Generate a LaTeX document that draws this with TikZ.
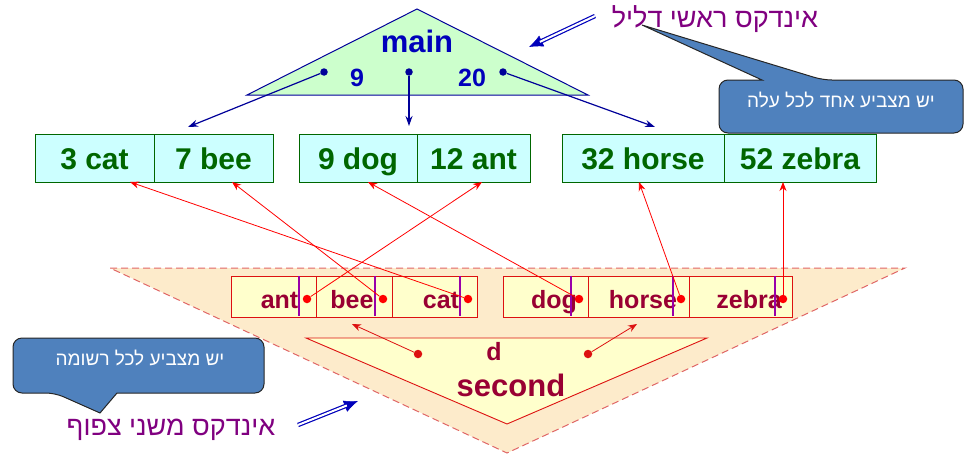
\documentclass[tikz,border=0pt]{standalone}
\usepackage{fontspec}
\setmainfont{Liberation Sans}
\newfontfamily\heb[Script=Hebrew]{Liberation Sans}
\TeXXeTstate=1
\usetikzlibrary{arrows.meta}
\definecolor{tgreenfill}{HTML}{CCFFCC}
\definecolor{navy}{HTML}{000099}
\definecolor{btext}{HTML}{0000BB}
\definecolor{tcyan}{HTML}{CCFFFF}
\definecolor{tgreen}{HTML}{006600}
\definecolor{orfill}{HTML}{FDEBCB}
\definecolor{ordash}{HTML}{E06666}
\definecolor{byellow}{HTML}{FFFFCC}
\definecolor{bred}{HTML}{DD1111}
\definecolor{dred}{HTML}{990033}
\definecolor{hpurple}{HTML}{800080}
\definecolor{pline}{HTML}{9900AA}
\definecolor{cblue}{HTML}{4F81BD}
\begin{document}
\begin{tikzpicture}[x=1pt,y=-1pt,
  topcell/.style={draw=tgreen, fill=tcyan, minimum height=48pt, inner sep=0pt,
    font=\fontsize{30}{30}\selectfont\bfseries, text=tgreen, text height=22pt, text depth=0pt},
  botcell/.style={draw=bred, fill=byellow, minimum height=41pt, inner sep=0pt},
  bottxt/.style={font=\fontsize{25}{26}\selectfont\bfseries, text=dred, anchor=base, inner sep=0pt},
  rdot/.style={circle, fill=red, inner sep=0pt, minimum size=8.5pt},
  ndot/.style={circle, fill=navy, inner sep=0pt, minimum size=7.5pt},
  rarrow/.style={red, line width=0.8pt, -{Stealth[length=9pt,width=7pt]}},
  darrow/.style={bred, line width=0.8pt, -{Stealth[length=9pt,width=7pt]}},
  barrow/.style={navy, line width=1.2pt, -{Stealth[length=10pt,width=7pt]}},
  dblhead/.style={btext, line width=0.5pt, -{Latex[length=14pt,width=12pt]}},
  dblline/.style={btext, double=white, double distance=2pt, line width=1.2pt, shorten >=12pt},
  purplebar/.style={pline, line width=2.2pt},
  callout/.style={fill=cblue, draw=black!85, line width=1pt},
  calltxt/.style={font=\heb\fontsize{19}{20}\selectfont, text=white, anchor=base, inner sep=0pt},
  hebtitle/.style={font=\heb\fontsize{27}{28}\selectfont, text=hpurple, anchor=base, inner sep=0pt}]
\useasboundingbox (0,0) rectangle (965,455);

% secondary index background
\draw[fill=orfill, draw=ordash, line width=1pt, dash pattern=on 7pt off 4pt] (110,268) -- (905,268) -- (507,453) -- cycle;
\draw[fill=byellow, draw=bred, line width=0.9pt] (306,338) -- (707,338) -- (507,424) -- cycle;
\node[font=\fontsize{25}{26}\selectfont\bfseries, text=dred, anchor=base, inner sep=0pt] (dlab) at (494,360) {d};
\node[font=\fontsize{31}{32}\selectfont\bfseries, text=dred, anchor=base, inner sep=0pt] (second) at (511,396) {second};

% bottom cells
\node[botcell, minimum width=85pt] (b1) at (273.5,296.5) {};
\node[botcell, minimum width=76pt] (b2) at (354,296.5) {};
\node[botcell, minimum width=85pt] (b3) at (434.5,296.5) {};
\node[botcell, minimum width=85pt] (b4) at (545.5,296.5) {};
\node[botcell, minimum width=101pt] (b5) at (638.5,296.5) {};
\node[botcell, minimum width=103pt] (b6) at (740.5,296.5) {};
\node[bottxt] (tant) at (279.5,308) {ant};
\node[bottxt] (tbee) at (352,308) {bee};
\node[bottxt] (tcat) at (441,308) {cat};
\node[bottxt] (tdog) at (554,308) {dog};
\node[bottxt] (thorse) at (643,308) {horse};
\node[bottxt] (tzebra) at (749,308) {zebra};
\foreach \px in {299,375,460,571,673,775} \draw[purplebar] (\px,276) -- (\px,316);
\node[rdot] (dant) at (307,299) {};
\node[rdot] (dbee) at (383,299) {};
\node[rdot] (dcat) at (468,299) {};
\node[rdot] (ddog) at (579,299) {};
\node[rdot] (dhorse) at (681,299) {};
\node[rdot] (dzebra) at (783,299) {};

% dots in second triangle
\node[circle, fill=bred, inner sep=0pt, minimum size=8.5pt] (sd1) at (418,354) {};
\node[circle, fill=bred, inner sep=0pt, minimum size=8.5pt] (sd2) at (588,354) {};
\coordinate (sa1) at (352,324);
\coordinate (sa2) at (637,324);
\draw[darrow] (sd1) -- (sa1);
\draw[darrow] (sd2) -- (sa2);

% top cells
\node[topcell, minimum width=119pt] (c1) at (94.5,158) {3 cat};
\node[topcell, minimum width=119pt] (c2) at (213.5,158) {7 bee};
\node[topcell, minimum width=118pt] (c3) at (358,158) {9 dog};
\node[topcell, minimum width=113pt] (c4) at (473.5,158) {12 ant};
\node[topcell, minimum width=162pt] (c5) at (643,158) {32 horse};
\node[topcell, minimum width=152pt] (c6) at (800,158) {52 zebra};

% red pointers
\coordinate (p12ant) at (482,182);
\coordinate (p7bee) at (232,182);
\coordinate (p3cat) at (130,182);
\coordinate (p9dog) at (368,182);
\coordinate (p32horse) at (639,182);
\coordinate (p52zebra) at (783,182);
\draw[rarrow] (dant) -- (p12ant);
\draw[rarrow] (dbee) -- (p7bee);
\draw[rarrow] (dcat) -- (p3cat);
\draw[rarrow] (ddog) -- (p9dog);
\draw[rarrow] (dhorse) -- (p32horse);
\draw[rarrow] (dzebra) -- (p52zebra);

% main triangle
\draw[fill=tgreenfill, draw=navy, line width=1pt] (417,9) -- (588,95) -- (247,95) -- cycle;
\node[font=\fontsize{31}{32}\selectfont\bfseries, text=btext, anchor=base, inner sep=0pt] (main) at (417,52) {main};
\node[font=\fontsize{25}{26}\selectfont\bfseries, text=btext, anchor=base, inner sep=0pt] (k9) at (357,86) {9};
\node[font=\fontsize{25}{26}\selectfont\bfseries, text=btext, anchor=base, inner sep=0pt] (k20) at (472,86) {20};
\node[ndot] (md1) at (324,72) {};
\node[ndot] (md2) at (409,72) {};
\node[ndot] (md3) at (503,72) {};
\coordinate (ma1) at (188,127);
\coordinate (ma2) at (409,126);
\coordinate (ma3) at (655,127);
\draw[barrow] (md1) -- (ma1);
\draw[barrow] (md2) -- (ma2);
\draw[barrow] (md3) -- (ma3);

% titles
\node[hebtitle] (title1) at (715,27) {\beginR אינדקס ראשי דליל\endR};
\node[hebtitle] (title2) at (171,435) {\beginR אינדקס משני צפוף\endR};

% double arrows
\coordinate (da1s) at (595,16);
\coordinate (da1e) at (529,47);
\coordinate (da2s) at (298,425);
\coordinate (da2e) at (358,401);
\draw[dblhead] (da1s) -- (da1e);
\draw[dblline] (da1s) -- (da1e);
\draw[dblhead] (da2s) -- (da2e);
\draw[dblline] (da2s) -- (da2e);

% callouts
\coordinate (ptr1) at (642,25);
\draw[callout] (823,80) -- (ptr1) -- (762,80) [rounded corners=9pt] -- (719,80) -- (719,133) -- (963,133) -- (963,80) -- cycle;
\node[calltxt] (call1) at (841,107) {\beginR יש מצביע אחד לכל עלה\endR};
\coordinate (ptr2) at (100,413);
\draw[callout] (55,393) -- (ptr2) -- (117,393) [rounded corners=9pt] -- (264,393) -- (264,338) -- (13,338) -- (13,393) -- cycle;
\node[calltxt] (call2) at (140,365) {\beginR יש מצביע לכל רשומה\endR};
\end{tikzpicture}
\end{document}
